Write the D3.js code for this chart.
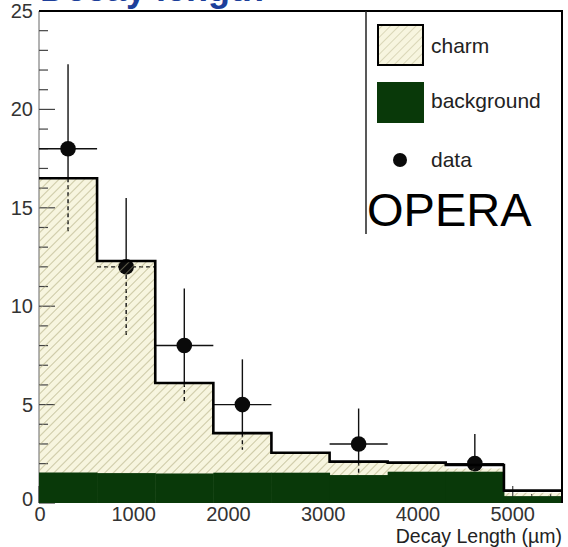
<!DOCTYPE html>
<html>
<head>
<meta charset="utf-8">
<script src="https://cdn.jsdelivr.net/npm/d3@7"></script>
<style>
  html, body { margin: 0; padding: 0; background: #fff; }
  svg { display: block; font-family: "Liberation Sans", Arial, sans-serif; }
</style>
</head>
<body>
<svg id="chart" width="568" height="547"></svg>
<script>
// Histogram bins (decay length, µm)
const binEdges = [0, 613, 1227, 1840, 2453, 3067, 3680, 4293, 4907, 5520];
// Stacked MC: background on the bottom, charm stacked on top
const background = [1.55, 1.52, 1.5, 1.54, 1.54, 1.42, 1.59, 1.59, 0.35];
const charm      = [14.95, 10.78, 4.6, 2.01, 0.96, 0.63, 0.41, 0.16, 0.17];
// Total expectation outline
const total      = [16.5, 12.3, 6.1, 3.55, 2.55, 2.1, 2.05, 1.93, 0.63];
// Data points (bin index, counts, error up / down)
const dataBin  = [0, 1, 2, 3, 5, 7];
const dataVal  = [18, 12, 8, 5, 3, 2];
const dataErrU = [4.3, 3.5, 2.9, 2.3, 1.8, 1.5];
const dataErrD = [4.3, 3.5, 2.9, 2.3, 1.6, 1.4];
// Axis ticks
const xTicks = [0, 1000, 2000, 3000, 4000, 5000];
const yTicks = [0, 5, 10, 15, 20, 25];
const legendItems = ["charm", "background", "data"];

const svg = d3.select("#chart");
const pL = 39, pR = 562, pT = 11, pB = 503;

const x = d3.scaleLinear().domain([0, 5520]).range([pL, pR]);
const y = d3.scaleLinear().domain([0, 25]).range([pB, pT]);

const defs = svg.append("defs");
const hatch = defs.append("pattern").attr("id", "hatch")
  .attr("patternUnits", "userSpaceOnUse").attr("width", 6).attr("height", 6)
  .attr("patternTransform", "rotate(45)");
hatch.append("rect").attr("width", 6).attr("height", 6).attr("fill", "#f7f5df");
hatch.append("line").attr("x1", 0).attr("y1", 0).attr("x2", 0).attr("y2", 6)
  .attr("stroke", "#c3bf98").attr("stroke-width", 1.1);
const hatchLines = defs.append("pattern").attr("id", "hatchLines")
  .attr("patternUnits", "userSpaceOnUse").attr("width", 6).attr("height", 6)
  .attr("patternTransform", "rotate(45)");
hatchLines.append("line").attr("x1", 0).attr("y1", 0).attr("x2", 0).attr("y2", 6)
  .attr("stroke", "#c3bf98").attr("stroke-width", 1.1);

// Blue heading above the frame (runs off the page top)
svg.append("text").attr("x", 40).attr("y", 0.5)
  .attr("fill", "#1d3f9a").attr("font-weight", "bold").attr("font-size", 36)
  .text("Decay length");

const bins = background.map((b, i) => ({
  x0: binEdges[i], x1: binEdges[i + 1], bg: b, top: b + charm[i], tot: total[i]
}));

// Charm (stacked on background)
svg.append("g").selectAll("rect").data(bins).join("rect")
  .attr("x", d => x(d.x0)).attr("width", d => x(d.x1) - x(d.x0) + 0.5)
  .attr("y", d => y(d.top)).attr("height", d => y(0) - y(d.top))
  .attr("fill", "url(#hatch)");

// Y axis with major and minor ticks pointing inward
const yAxis = svg.append("g");
yAxis.append("line").attr("x1", pL).attr("x2", pL).attr("y1", pT).attr("y2", pB)
  .attr("stroke", "#666").attr("stroke-width", 1);
yAxis.selectAll("line.minor").data(d3.range(0, 26)).join("line").attr("class", "minor")
  .attr("x1", pL).attr("x2", d => pL + (d % 5 === 0 ? 16 : 9))
  .attr("y1", d => y(d)).attr("y2", d => y(d))
  .attr("stroke", "#444").attr("stroke-width", 1.2);
yAxis.selectAll("text").data(yTicks).join("text")
  .attr("x", 33).attr("y", d => y(d) + (d === 0 ? 3 : 7))
  .attr("text-anchor", "end").attr("font-size", 20).attr("fill", "#333")
  .text(d => d);

// X axis ticks (major every 1000, minor every 200)
svg.append("g").selectAll("line").data(d3.range(0, 5600, 200)).join("line")
  .attr("x1", d => x(d)).attr("x2", d => x(d))
  .attr("y1", pB).attr("y2", d => pB - (d % 1000 === 0 ? 17 : 9))
  .attr("stroke", "#444").attr("stroke-width", 1.2);
svg.append("g").selectAll("text").data(xTicks).join("text")
  .attr("x", d => x(d) + (d === 0 ? 1 : 0)).attr("y", 521)
  .attr("text-anchor", "middle").attr("font-size", 20).attr("fill", "#333")
  .text(d => d);
svg.append("text").attr("x", 562).attr("y", 543).attr("text-anchor", "end")
  .attr("font-size", 19.5).attr("fill", "#222").text("Decay Length (\u00b5m)");

// Data: error bars (dashed where they sit inside the expectation) and markers
const pts = dataBin.map((b, i) => ({
  b, v: dataVal[i], hi: dataVal[i] + dataErrU[i], lo: dataVal[i] - dataErrD[i],
  cx: x((binEdges[b] + binEdges[b + 1]) / 2), tot: total[b]
}));
const eb = svg.append("g").attr("stroke", "#111").attr("stroke-width", 1.4);
pts.forEach(p => {
  const inside = p.v < p.tot;
  if (p.hi > p.tot) {
    eb.append("line").attr("x1", p.cx).attr("x2", p.cx)
      .attr("y1", y(p.hi)).attr("y2", y(Math.max(p.tot, p.lo)));
  }
  if (p.lo < p.tot) {
    eb.append("line").attr("x1", p.cx).attr("x2", p.cx)
      .attr("y1", y(Math.min(p.tot, p.hi))).attr("y2", y(p.lo))
      .attr("stroke-dasharray", "4,3");
  }
  eb.append("line")
    .attr("x1", x(binEdges[p.b])).attr("x2", x(binEdges[p.b + 1]))
    .attr("y1", y(p.v)).attr("y2", y(p.v))
    .attr("stroke-dasharray", inside ? "4,3" : null);
});
svg.append("g").selectAll("circle").data(pts).join("circle")
  .attr("cx", d => d.cx).attr("cy", d => y(d.v)).attr("r", 7.8).attr("fill", "#0a0a0a");

// Hatch lines drawn over the filled area (they also cross markers inside it)
svg.append("g").selectAll("rect").data(bins).join("rect")
  .attr("x", d => x(d.x0)).attr("width", d => x(d.x1) - x(d.x0))
  .attr("y", d => y(d.top)).attr("height", d => y(d.bg) - y(d.top))
  .attr("fill", "url(#hatchLines)").attr("opacity", 0.8);

// Background
svg.append("g").selectAll("rect").data(bins).join("rect")
  .attr("x", d => x(d.x0)).attr("width", d => x(d.x1) - x(d.x0) + 0.5)
  .attr("y", d => y(d.bg)).attr("height", d => y(0) - y(d.bg))
  .attr("fill", "#093909");

// Total outline (step line)
const stepPts = [];
bins.forEach(d => { stepPts.push([x(d.x0), y(d.tot)]); stepPts.push([x(d.x1), y(d.tot)]); });
svg.append("path").attr("d", d3.line()(stepPts))
  .attr("fill", "none").attr("stroke", "#000").attr("stroke-width", 2.6);

// Frame: top and right
svg.append("path").attr("d", d3.line()([[pL, pT], [pR, pT], [pR, pB]]))
  .attr("fill", "none").attr("stroke", "#000").attr("stroke-width", 2);

// Legend
const lg = svg.append("g");
lg.append("line").attr("x1", 366).attr("x2", 366).attr("y1", pT).attr("y2", 234)
  .attr("stroke", "#222").attr("stroke-width", 1.5);
lg.append("rect").attr("x", 378).attr("y", 25).attr("width", 45).attr("height", 40)
  .attr("fill", "url(#hatch)").attr("stroke", "#000").attr("stroke-width", 2);
lg.append("rect").attr("x", 377).attr("y", 82).attr("width", 47).attr("height", 41)
  .attr("fill", "#093909");
lg.append("circle").attr("cx", 400).attr("cy", 160).attr("r", 7).attr("fill", "#0a0a0a");
lg.selectAll("text.lab").data(legendItems).join("text").attr("class", "lab")
  .attr("x", 431).attr("y", (d, i) => [53, 108, 167][i])
  .attr("font-size", 21).attr("fill", "#222").text(d => d);
lg.append("text").attr("x", 367).attr("y", 226)
  .attr("font-size", 47).attr("fill", "#000").text("OPERA");
</script>
</body>
</html>
